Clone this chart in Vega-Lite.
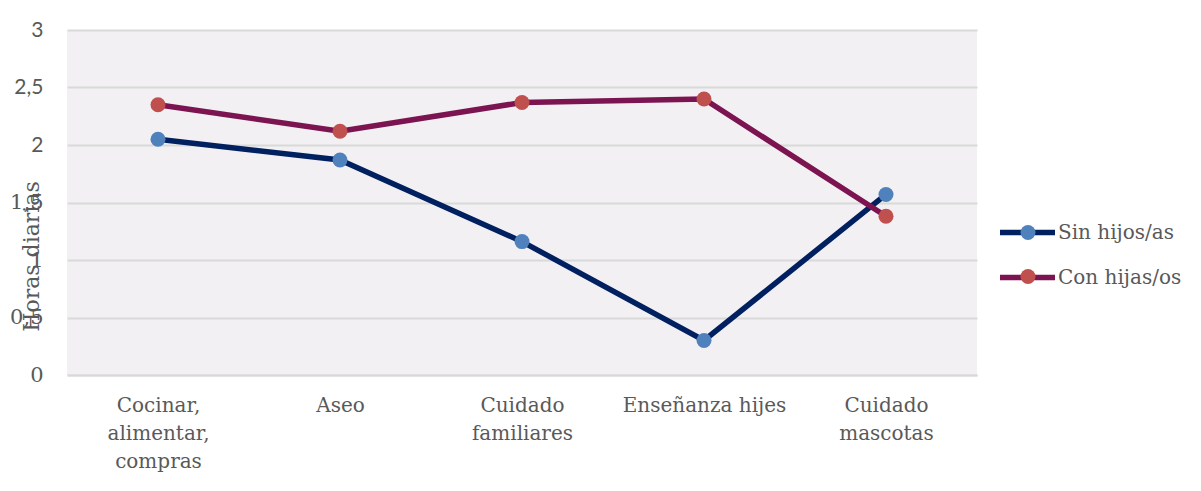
{
  "$schema": "https://vega.github.io/schema/vega-lite/v6.json",
  "width": 910,
  "height": 345,
  "autosize": {"type": "none"},
  "padding": {"left": 67, "top": 30, "right": 224, "bottom": 116},
  "background": "white",
  "data": {
    "values": [
      {"tarea": "Cocinar, alimentar, compras", "serie": "Sin hijos/as", "horas": 2.05},
      {"tarea": "Aseo", "serie": "Sin hijos/as", "horas": 1.87},
      {"tarea": "Cuidado familiares", "serie": "Sin hijos/as", "horas": 1.16},
      {"tarea": "Enseñanza hijes", "serie": "Sin hijos/as", "horas": 0.3},
      {"tarea": "Cuidado mascotas", "serie": "Sin hijos/as", "horas": 1.57},
      {"tarea": "Cocinar, alimentar, compras", "serie": "Con hijas/os", "horas": 2.35},
      {"tarea": "Aseo", "serie": "Con hijas/os", "horas": 2.12},
      {"tarea": "Cuidado familiares", "serie": "Con hijas/os", "horas": 2.37},
      {"tarea": "Enseñanza hijes", "serie": "Con hijas/os", "horas": 2.4},
      {"tarea": "Cuidado mascotas", "serie": "Con hijas/os", "horas": 1.38}
    ]
  },
  "encoding": {
    "x": {
      "field": "tarea",
      "type": "nominal",
      "sort": ["Cocinar, alimentar, compras", "Aseo", "Cuidado familiares", "Enseñanza hijes", "Cuidado mascotas"],
      "axis": {
        "title": null,
        "labelAngle": 0,
        "labelExpr": "datum.label == 'Enseñanza hijes' ? datum.label : split(datum.label, ' ')",
        "labelFont": "DejaVu Serif",
        "labelFontSize": 20,
        "labelColor": "#595959",
        "labelLineHeight": 28,
        "labelPadding": 20,
        "labelBaseline": "top",
        "ticks": false,
        "domain": true,
        "domainColor": "#D9D9D9",
        "domainWidth": 2,
        "grid": false
      }
    },
    "y": {
      "field": "horas",
      "type": "quantitative",
      "scale": {"domain": [0, 3], "nice": false},
      "axis": {
        "values": [0, 0.5, 1, 1.5, 2, 2.5, 3],
        "labelExpr": "replace(format(datum.value, '~g'), '.', ',')",
        "labelFont": {"condition": {"test": "datum.value < 2", "value": "DejaVu Serif"}, "value": "Lato"},
        "labelFontSize": 21,
        "labelColor": "#595959",
        "labelPadding": 24,
        "ticks": false,
        "domain": false,
        "grid": true,
        "gridColor": "#D9D9D9",
        "gridWidth": 2,
        "title": "Horas diarias",
        "titleFont": "DejaVu Serif",
        "titleFontSize": 22,
        "titleFontWeight": "normal",
        "titleColor": "#595959",
        "titleBaseline": "middle",
        "titleAngle": -90,
        "titleX": -36,
        "titleY": 226
      }
    }
  },
  "layer": [
    {
      "mark": {"type": "line", "strokeWidth": 5.5, "strokeCap": "round"},
      "encoding": {
        "stroke": {
          "field": "serie",
          "type": "nominal",
          "scale": {"domain": ["Sin hijos/as", "Con hijas/os"], "range": ["#002060", "#7B1450"]},
          "legend": {
            "title": null,
            "orient": "none",
            "legendX": 930,
            "legendY": 172,
            "padding": 0,
            "symbolType": "stroke",
            "symbolSize": 3025,
            "symbolStrokeWidth": 5.5,
            "labelFont": "DejaVu Serif",
            "labelFontSize": 20,
            "labelColor": "#595959",
            "labelOffset": 0,
            "rowPadding": 3
          }
        }
      }
    },
    {
      "mark": {"type": "point", "filled": true, "size": 225, "opacity": 1},
      "encoding": {
        "fill": {
          "field": "serie",
          "type": "nominal",
          "sort": ["Sin hijos/as", "Con hijas/os"],
          "scale": {"range": ["#4F81BD", "#C0504D"]},
          "legend": {
            "title": null,
            "orient": "none",
            "legendX": 953.5,
            "legendY": 195,
            "padding": 0,
            "symbolType": "circle",
            "symbolSize": 225,
            "symbolOpacity": 1,
            "symbolStrokeWidth": 0,
            "labelExpr": "''",
            "labelFontSize": 1,
            "labelOffset": 0,
            "rowPadding": 29
          }
        }
      }
    }
  ],
  "resolve": {"legend": {"stroke": "independent", "fill": "independent"}},
  "config": {
    "view": {"fill": "#F2F0F3", "stroke": null}
  }
}
